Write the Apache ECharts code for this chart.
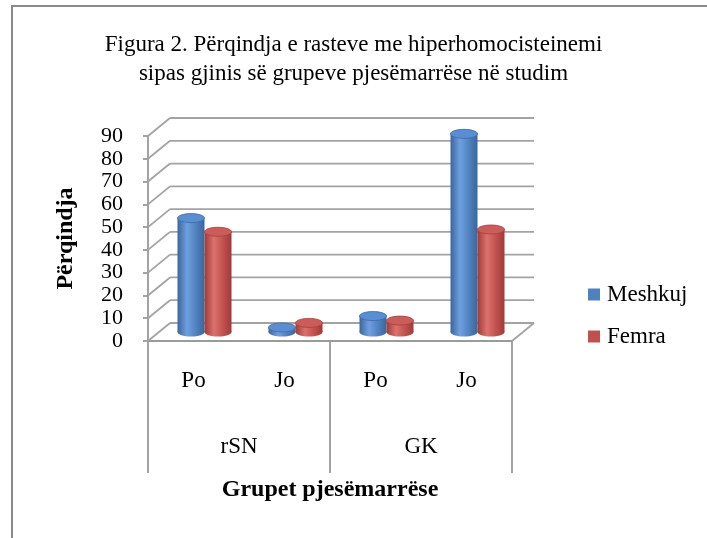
<!DOCTYPE html>
<html><head><meta charset="utf-8">
<script src="https://cdn.jsdelivr.net/npm/echarts@6/dist/echarts.min.js"></script>
<style>html,body{margin:0;padding:0;background:#fff;}#c{width:707px;height:538px;}</style>
</head><body><div id="c"></div>
<script>
var categories = ['Po', 'Jo', 'Po', 'Jo'];
var groups = ['rSN', 'GK'];
var meshkuj = [50, 2, 7, 87];
var femra = [44, 4, 5, 45];
var yTicks = [0, 10, 20, 30, 40, 50, 60, 70, 80, 90];
var seriesNames = ['Meshkuj', 'Femra'];

var FONT = '"Liberation Serif", "Times New Roman", serif';
var DX = 22, DY = -18;
var BARW = 27;
var palettes = [
  {base: '#4F81BD', light: '#6f9fe0', dark: '#3a669c', top: '#5a8ed2', edge: '#3d6aa3'},
  {base: '#C0504D', light: '#dc716d', dark: '#9e3b38', top: '#cc5c59', edge: '#a43f3c'}
];

function frameRender(params, api) {
  var cs = params.coordSys;
  var v = api.value(0);
  var p = api.coord([0, v]);
  var y = p[1];
  var x0 = cs.x, x1 = cs.x + cs.width;
  var st = {stroke: '#a3a3a3', lineWidth: 1.8};
  var children = [
    {type: 'line', shape: {x1: x0, y1: y, x2: x0 + DX, y2: y + DY}, style: st},
    {type: 'line', shape: {x1: x0 + DX, y1: y + DY, x2: x1 + DX, y2: y + DY}, style: st}
  ];
  if (v === 0) {
    children.push({type: 'line', shape: {x1: x1, y1: y, x2: x1 + DX, y2: y + DY}, style: st});
  }
  return {type: 'group', children: children};
}

function cylRender(idx) {
  return function (params, api) {
    var c = api.value(0), v = api.value(1);
    var top = api.coord([c, v]);
    var bot = api.coord([c, 0]);
    var cx = top[0] + DX / 2 + (idx === 0 ? -BARW / 2 : BARW / 2);
    var ty = top[1] + DY / 2, by = bot[1] + DY / 2;
    var pal = palettes[idx];
    var rx = BARW / 2, ry = 4.5;
    var grad = new echarts.graphic.LinearGradient(0, 0, 1, 0, [
      {offset: 0, color: pal.dark},
      {offset: 0.35, color: pal.light},
      {offset: 0.7, color: pal.base},
      {offset: 1, color: pal.dark}
    ]);
    return {type: 'group', children: [
      {type: 'ellipse', shape: {cx: cx, cy: by, rx: rx, ry: ry}, style: {fill: grad}},
      {type: 'rect', shape: {x: cx - rx, y: ty, width: BARW, height: Math.max(by - ty, 0)}, style: {fill: grad}},
      {type: 'ellipse', shape: {cx: cx, cy: ty, rx: rx, ry: ry}, style: {fill: pal.top, stroke: pal.edge, lineWidth: 0.8}}
    ]};
  };
}

var chart = echarts.init(document.getElementById('c'), null, {renderer: 'canvas'});
chart.setOption({
  backgroundColor: '#fff',
  animation: false,
  textStyle: {fontFamily: FONT, color: '#000'},
  title: {
    text: 'Figura 2. Përqindja e rasteve me hiperhomocisteinemi\nsipas gjinis së grupeve pjesëmarrëse në studim',
    left: 'center', top: 25,
    textStyle: {fontFamily: FONT, fontSize: 23, fontWeight: 'normal', color: '#000', lineHeight: 29}
  },
  graphic: [{
    type: 'rect', shape: {x: 12, y: 6, width: 720, height: 560},
    style: {fill: 'none', stroke: '#8a8a8a', lineWidth: 2}, silent: true, z: -1
  }],
  legend: {
    orient: 'vertical', left: 583, top: 278, itemGap: 19,
    itemWidth: 12, itemHeight: 12, icon: 'rect',
    data: seriesNames,
    textStyle: {fontFamily: FONT, fontSize: 23, color: '#000', padding: [0, 0, 0, 2]}
  },
  grid: {left: 148, right: 195, top: 136, bottom: 197},
  xAxis: [{
    type: 'category', data: categories, position: 'bottom',
    axisLine: {show: true, lineStyle: {color: '#9a9a9a', width: 1.8}},
    axisTick: {show: false},
    axisLabel: {margin: 28, fontFamily: FONT, fontSize: 23, color: '#000'}
  }, {
    type: 'category', data: groups, position: 'bottom',
    axisLine: {show: false},
    axisTick: {show: true, length: 132, inside: false, lineStyle: {color: '#9a9a9a', width: 1.8}},
    axisLabel: {margin: 94, fontFamily: FONT, fontSize: 23, color: '#000'},
    name: 'Grupet pjesëmarrëse', nameLocation: 'middle', nameGap: 137,
    nameTextStyle: {fontFamily: FONT, fontSize: 24, fontWeight: 'bold', color: '#000'}
  }],
  yAxis: {
    type: 'value', min: 0, max: 90, interval: 10,
    axisLine: {show: true, lineStyle: {color: '#9a9a9a', width: 1.8}},
    axisTick: {show: true, length: 5, lineStyle: {color: '#9a9a9a', width: 1.8}},
    splitLine: {show: false},
    axisLabel: {margin: 25, fontFamily: FONT, fontSize: 22, color: '#000',
      formatter: function (v) { return yTicks.indexOf(v) >= 0 ? String(v) : ''; }},
    name: 'Përqindja', nameLocation: 'middle', nameGap: 70, nameRotate: 90,
    nameTextStyle: {fontFamily: FONT, fontSize: 24, fontWeight: 'bold', color: '#000'}
  },
  series: [{
    type: 'custom', name: 'frame', silent: true, z: 1,
    renderItem: frameRender,
    data: yTicks.map(function (t) { return [t]; }),
    encode: {y: 0}
  }, {
    type: 'custom', name: seriesNames[0], z: 3,
    itemStyle: {color: palettes[0].base},
    renderItem: cylRender(0),
    data: meshkuj.map(function (v, i) { return [i, v]; }),
    encode: {x: 0, y: 1}
  }, {
    type: 'custom', name: seriesNames[1], z: 4,
    itemStyle: {color: palettes[1].base},
    renderItem: cylRender(1),
    data: femra.map(function (v, i) { return [i, v]; }),
    encode: {x: 0, y: 1}
  }]
});
</script></body></html>
